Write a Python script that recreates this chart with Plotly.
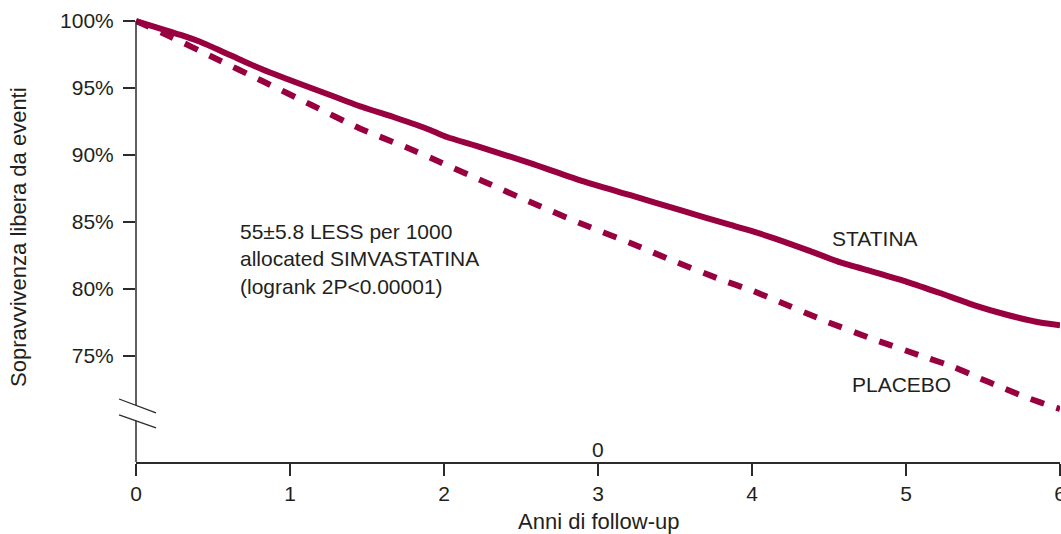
import plotly.graph_objects as go

# ---- data ----
years_statina = [0, 0.29, 0.42, 0.61, 0.83, 1.05, 1.26, 1.47, 1.69, 1.91, 2.02, 2.23,
                 2.56, 2.88, 3.21, 3.53, 3.86, 3.99, 4.14, 4.36, 4.57, 4.79, 5.01, 5.22,
                 5.44, 5.66, 5.87, 6.0]
surv_statina = [100, 98.96, 98.43, 97.46, 96.34, 95.37, 94.48, 93.58, 92.76, 91.87,
                91.34, 90.6, 89.4, 88.13, 87.0, 85.9, 84.78, 84.35, 83.8, 82.9, 82.0,
                81.27, 80.52, 79.7, 78.8, 78.06, 77.5, 77.3]

years_placebo = [0, 0.2, 0.51, 0.82, 1.14, 1.45, 1.77, 1.93, 2.25, 2.56, 2.88, 3.21,
                 3.51, 3.84, 3.99, 4.18, 4.49, 4.82, 5.14, 5.31, 5.46, 5.63, 5.79,
                 5.96, 6.0]
surv_placebo = [100, 98.96, 97.24, 95.52, 93.73, 92.0, 90.5, 89.7, 88.06, 86.49, 84.93,
                83.43, 82.0, 80.52, 79.93, 79.03, 77.54, 76.12, 74.85, 74.18, 73.43,
                72.61, 71.87, 71.19, 71.05]

x_ticks = [0, 1, 2, 3, 4, 5, 6]
y_ticks = [75, 80, 85, 90, 95, 100]
y_ticktext = ["75%", "80%", "85%", "90%", "95%", "100%"]

COLOR = "#990040"
TXT = "#231f20"
AX = "#2b2b2b"
FONT = "Liberation Sans, Arial, sans-serif"
FS = 21

# axis ranges (plot area: 136..1060 px horizontally, 14..462 px vertically)
X_LO, X_HI = 0.0, 6.0
PX_PER_PCT = 13.4
Y_LO = 100 - 441 / PX_PER_PCT
Y_HI = 100 + 7 / PX_PER_PCT


def xp(x):
    return (x - X_LO) / (X_HI - X_LO)


def yp(y):
    return (y - Y_LO) / (Y_HI - Y_LO)


fig = go.Figure()
fig.add_trace(go.Scatter(x=years_statina, y=surv_statina, mode="lines",
                         line=dict(color=COLOR, width=6, shape="spline", smoothing=0.6),
                         name="STATINA", showlegend=False, hoverinfo="skip"))
fig.add_trace(go.Scatter(x=years_placebo, y=surv_placebo, mode="lines",
                         line=dict(color=COLOR, width=6, dash="14px,13px",
                                   shape="spline", smoothing=0.6),
                         name="PLACEBO", showlegend=False, hoverinfo="skip"))

shapes = []
# y-axis line with a break
y_break_top = 100 - (405 - 21) / PX_PER_PCT
y_break_bot = 100 - (421 - 21) / PX_PER_PCT
shapes.append(dict(type="line", xref="paper", yref="paper", x0=0, x1=0,
                   y0=yp(y_break_top), y1=yp(100), line=dict(color=AX, width=1.5)))
shapes.append(dict(type="line", xref="paper", yref="paper", x0=0, x1=0,
                   y0=0, y1=yp(y_break_bot), line=dict(color=AX, width=1.5)))
# break slashes
for (ya, yb) in [(71.79, 70.75), (70.60, 69.63)]:
    shapes.append(dict(type="line", xref="paper", yref="paper",
                       x0=xp(-0.11), x1=xp(0.13), y0=yp(ya), y1=yp(yb),
                       line=dict(color=AX, width=1.3)))

annotations = [
    dict(x=0.662, y=82.24, xref="x", yref="y", xanchor="left", yanchor="middle",
         align="left", showarrow=False,
         text="55±5.8 LESS per 1000<br>allocated SIMVASTATINA<br>(logrank 2P<0.00001)",
         font=dict(family=FONT, size=FS, color=TXT)),
    dict(x=4.80, y=83.8, xref="x", yref="y", showarrow=False, text="STATINA",
         font=dict(family=FONT, size=FS, color=TXT)),
    dict(x=4.97, y=72.84, xref="x", yref="y", showarrow=False, text="PLACEBO",
         font=dict(family=FONT, size=FS, color=TXT)),
    dict(x=3, y=67.99, xref="x", yref="y", showarrow=False, text="0",
         font=dict(family=FONT, size=FS, color=TXT)),
    dict(x=xp(3), y=-(521 - 462) / 448, xref="paper", yref="paper", showarrow=False,
         text="Anni di follow-up", yanchor="middle", borderpad=0,
         font=dict(family=FONT, size=FS + 1, color=TXT)),
    dict(x=-(136 - 18) / 924, y=yp(100 - (237 - 21) / PX_PER_PCT), xref="paper",
         yref="paper", showarrow=False, text="Sopravvivenza libera da eventi",
         textangle=-90, xanchor="center", yanchor="middle",
         font=dict(family=FONT, size=FS + 1, color=TXT)),
]

fig.update_layout(
    width=1061, height=534,
    margin=dict(l=136, r=1, t=14, b=72, autoexpand=False),
    paper_bgcolor="white", plot_bgcolor="white",
    showlegend=False,
    shapes=shapes,
    annotations=annotations,
    font=dict(family=FONT, size=FS, color=TXT),
    xaxis=dict(range=[X_LO, X_HI], tickvals=x_ticks, ticktext=[str(v) for v in x_ticks],
               showline=True, linecolor=AX, linewidth=1.5, ticks="outside", ticklen=12,
               tickwidth=1.5, tickcolor=AX, showgrid=False, zeroline=False,
               ticklabeloverflow="allow", automargin=False,
               tickfont=dict(family=FONT, size=FS, color=TXT), fixedrange=True),
    yaxis=dict(range=[Y_LO, Y_HI], tickvals=y_ticks, ticktext=y_ticktext,
               showline=False, ticks="outside", ticklen=12, tickwidth=1.5,
               tickcolor=AX, showgrid=False, zeroline=False, ticklabelstandoff=5,
               automargin=False,
               tickfont=dict(family=FONT, size=FS, color=TXT), fixedrange=True),
)

fig.write_html("out.html")
